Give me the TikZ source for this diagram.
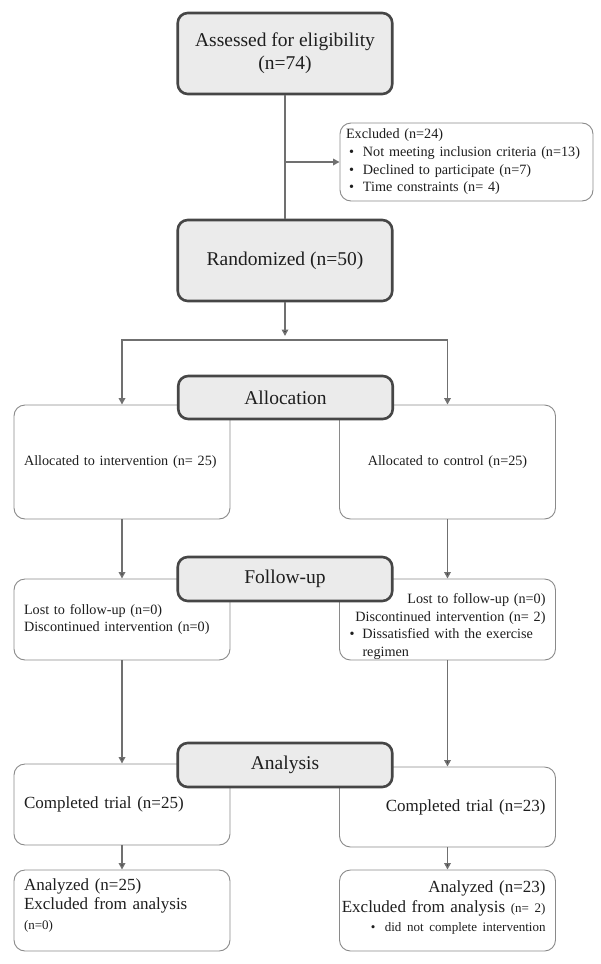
\documentclass[tikz,border=0pt]{standalone}
\usepackage{fontspec}
\setmainfont{Liberation Serif}
\usetikzlibrary{arrows.meta}

\definecolor{linegray}{HTML}{707070}
\definecolor{edgegray}{HTML}{464646}
\definecolor{fillgray}{HTML}{EBEBEB}
\definecolor{thingray}{HTML}{8A8A8A}
\definecolor{txtgray}{HTML}{1E1E1E}

\newcommand{\bigtxt}{\fontsize{19.5}{23}\selectfont}
\newcommand{\midtxt}{\fontsize{17}{19.5}\selectfont}
\newcommand{\smalltxt}{\fontsize{14.2}{17.7}\selectfont}
\newcommand{\tinytxt}{\fontsize{13}{17}\selectfont}
\newcommand{\bul}[1]{\makebox[17pt][l]{\hspace{3pt}\textbullet}#1}
\newcommand{\rline}[1]{\makebox[196pt][r]{#1}}

\begin{document}
\begin{tikzpicture}[x=1pt, y=-1pt,
  phase/.style={draw=edgegray, line width=2.6pt, fill=fillgray, rounded corners=10pt, minimum width=214.5pt, text=txtgray, font=\bigtxt, align=center, inner sep=0pt},
  sidebox/.style={draw=thingray, line width=0.9pt, rounded corners=11pt, fill=white, minimum width=216pt, text width=196pt, inner xsep=10pt, inner ysep=0pt, text=txtgray, font=\smalltxt, align=left},
  plain/.style={line width=1.6pt, draw=linegray},
  link/.style={plain, -{Triangle[length=6.5pt, width=6.5pt]}}]
\useasboundingbox (0,0) rectangle (601,964);

% boxes of the two arms
\node[sidebox, minimum height=114pt] (ia) at (122,462) {Allocated to intervention (n= 25)};
\node[sidebox, minimum height=114pt, align=center] (ca) at (447.5,462) {Allocated to control (n=25)};
\node[sidebox, minimum height=81pt] (ifu) at (122,619.5) {Lost to follow-up (n=0)\\Discontinued intervention (n=0)};
\node[sidebox, minimum height=81pt, align=right, text depth=42pt] (cfu) at (447.5,619.5) {Lost to follow-up (n=0)\\Discontinued intervention (n= 2)\\\makebox[196pt][l]{\makebox[13pt][l]{\textbullet}Dissatisfied with the exercise}\\\makebox[196pt][l]{\hspace{13pt}regimen}};
\node[sidebox, minimum height=81pt, font=\midtxt] (icomp) at (122,804.5) {Completed trial (n=25)};
\node[sidebox, minimum height=80pt, font=\midtxt, align=right] (ccomp) at (447.5,807) {Completed trial (n=23)};
\node[sidebox, minimum height=81pt, font=\midtxt, text depth=52pt] (ian) at (122,910.5) {Analyzed (n=25)\\Excluded from analysis\\{\tinytxt (n=0)}};
\node[sidebox, minimum height=81pt, font=\midtxt, align=right, text depth=47pt] (can) at (447.5,910.5) {\rline{Analyzed (n=23)}\\\rline{Excluded from analysis {\tinytxt (n= 2)}}\\\rline{\tinytxt\makebox[14pt][l]{\textbullet}did not complete intervention}};
\node[sidebox, minimum width=253pt, text width=241pt, inner xsep=6pt, minimum height=78pt] (excl) at (466.5,162) {Excluded (n=24)\\\bul{Not meeting inclusion criteria (n=13)}\\\bul{Declined to participate (n=7)}\\\bul{Time constraints (n= 4)}};

% phase boxes
\node[phase, minimum height=81pt] (assess) at (285,53.5) {Assessed for eligibility\\(n=74)};
\node[phase, minimum height=81pt] (rand) at (285,260.5) {Randomized (n=50)};
\node[phase, minimum height=43pt] (alloc) at (285.5,397.5) {Allocation};
\node[phase, minimum height=44pt] (fu) at (285,579) {Follow-up};
\node[phase, minimum height=44pt] (ana) at (285,765) {Analysis};

\coordinate (exc) at (285,162);
\coordinate (spc) at (285,336);
\coordinate (spl) at (122,340);
\coordinate (spr) at (447.5,340);

\path [plain] (assess) edge (rand);
\draw [link] (exc) -- (excl.west);
\path [link] (rand) edge (spc);
\draw [plain, line cap=rect] (spl) -- (spr);
\draw [link] (spl) -- (ia);
\draw [link] (spr) -- (ca);
\path [link] (ia) edge (ifu);
\path [link] (ca) edge (cfu);
\path [link] (ifu) edge (icomp);
\path [link] (cfu) edge (ccomp);
\path [link] (icomp) edge (ian);
\path [link] (ccomp) edge (can);
\end{tikzpicture}
\end{document}
